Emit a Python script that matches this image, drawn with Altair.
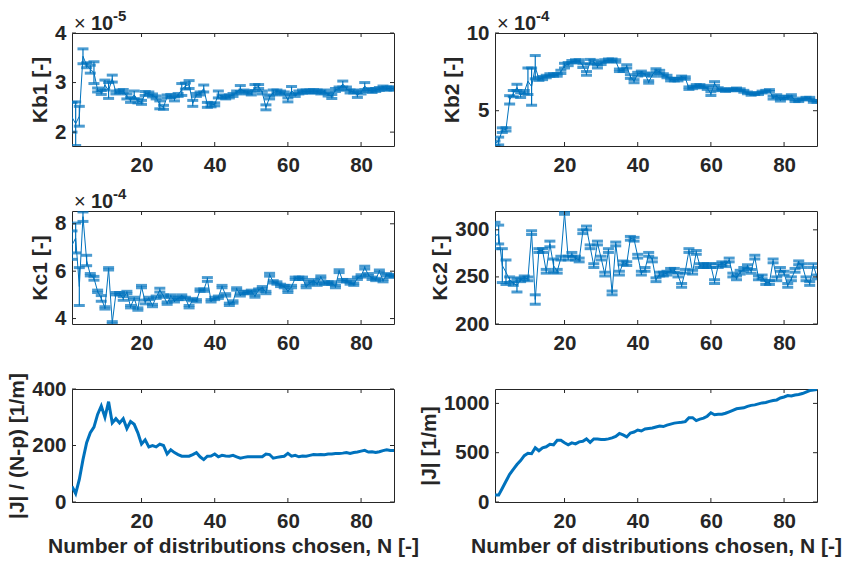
import altair as alt
import pandas as pd

N = list(range(1, 90))

kb1 = [2.30, 2.17, 2.32, 3.53, 3.35, 3.27, 3.20, 2.85, 2.80, 2.95,
       2.84, 3.08, 2.80, 2.82, 2.83, 2.72, 2.65, 2.75, 2.63, 2.60,
       2.78, 2.78, 2.74, 2.70, 2.55, 2.50, 2.72, 2.73, 2.67, 2.75,
       2.86, 2.93, 2.96, 2.58, 2.75, 2.78, 2.88, 2.55, 2.55, 2.56,
       2.76, 2.72, 2.70, 2.72, 2.75, 2.80, 2.88, 2.82, 2.80, 2.78,
       2.90, 2.92, 2.80, 2.50, 2.70, 2.80, 2.82, 2.80, 2.78, 2.65,
       2.84, 2.75, 2.80, 2.82, 2.82, 2.82, 2.83, 2.82, 2.80, 2.82,
       2.76, 2.72, 2.85, 2.88, 2.97, 2.88, 2.82, 2.82, 2.75, 2.80,
       2.93, 2.85, 2.83, 2.85, 2.87, 2.90, 2.88, 2.88, 2.88]
kb1_err = [0.30, 0.44, 0.20, 0.15, 0.05, 0.08, 0.22, 0.04, 0.04, 0.10,
           0.16, 0.07, 0.03, 0.03, 0.03, 0.05, 0.05, 0.08, 0.04, 0.04,
           0.04, 0.03, 0.03, 0.03, 0.08, 0.04, 0.03, 0.03, 0.04, 0.03,
           0.12, 0.06, 0.08, 0.06, 0.03, 0.03, 0.07, 0.05, 0.04, 0.03,
           0.07, 0.03, 0.03, 0.03, 0.03, 0.03, 0.06, 0.03, 0.03, 0.03,
           0.06, 0.04, 0.03, 0.05, 0.03, 0.05, 0.03, 0.03, 0.03, 0.04,
           0.08, 0.03, 0.03, 0.03, 0.03, 0.03, 0.03, 0.03, 0.03, 0.03,
           0.03, 0.04, 0.03, 0.03, 0.06, 0.03, 0.03, 0.03, 0.05, 0.03,
           0.07, 0.03, 0.03, 0.03, 0.03, 0.03, 0.03, 0.03, 0.03]

kb2 = [2.90, 3.05, 3.75, 3.80, 5.70, 6.10, 6.50, 6.00, 6.20, 6.90,
       6.55, 7.80, 7.05, 7.10, 7.20, 7.30, 7.30, 7.30, 7.50, 7.90,
       8.00, 8.15, 8.20, 8.20, 7.90, 7.40, 8.15, 8.15, 7.85, 8.05,
       8.20, 8.25, 8.25, 8.20, 7.60, 7.60, 7.85, 7.20, 6.90, 7.35,
       7.45, 7.35, 6.85, 7.30, 7.60, 7.50, 7.30, 7.20, 7.00, 7.00,
       7.00, 7.15, 7.10, 6.45, 6.50, 6.60, 6.60, 6.55, 6.45, 6.10,
       6.75, 6.40, 6.35, 6.30, 6.35, 6.35, 6.40, 6.35, 6.25, 6.15,
       6.05, 6.10, 6.10, 6.20, 6.25, 6.30, 5.85, 5.95, 5.70, 5.85,
       5.85, 5.95, 5.65, 5.65, 5.75, 5.80, 5.80, 5.60, 5.60]
kb2_err = [0.15, 0.25, 0.15, 0.10, 0.27, 0.20, 0.20, 0.15, 0.10, 0.85,
           1.20, 0.75, 0.10, 0.10, 0.08, 0.08, 0.08, 0.08, 0.10, 0.15,
           0.10, 0.08, 0.08, 0.08, 0.12, 0.12, 0.15, 0.10, 0.10, 0.08,
           0.08, 0.08, 0.08, 0.08, 0.08, 0.08, 0.10, 0.12, 0.10, 0.12,
           0.10, 0.08, 0.08, 0.08, 0.10, 0.10, 0.08, 0.08, 0.08, 0.08,
           0.08, 0.08, 0.08, 0.08, 0.08, 0.08, 0.08, 0.08, 0.08, 0.12,
           0.12, 0.08, 0.06, 0.06, 0.06, 0.06, 0.06, 0.06, 0.06, 0.06,
           0.06, 0.06, 0.06, 0.06, 0.06, 0.06, 0.10, 0.08, 0.08, 0.08,
           0.08, 0.08, 0.06, 0.06, 0.06, 0.06, 0.06, 0.06, 0.06]

kc1 = [7.10, 7.40, 5.35, 8.30, 6.45, 5.85, 5.70, 5.15, 4.85, 4.45,
       6.10, 3.82, 5.05, 5.05, 4.85, 5.10, 4.50, 4.85, 4.40, 5.35,
       4.70, 4.85, 4.55, 4.90, 5.20, 4.95, 4.65, 4.95, 4.75, 4.85,
       4.95, 4.85, 4.50, 4.80, 4.75, 5.20, 5.20, 5.65, 4.75, 4.85,
       4.90, 5.35, 5.00, 4.60, 4.70, 5.25, 5.00, 5.10, 5.10, 5.15,
       4.95, 5.20, 5.30, 5.10, 5.85, 5.55, 5.50, 5.40, 5.35, 5.15,
       5.35, 5.70, 5.70, 5.70, 5.35, 5.50, 5.60, 5.45, 5.75, 5.50,
       5.50, 5.50, 5.35, 6.00, 5.60, 5.60, 5.50, 5.45, 5.70, 5.80,
       6.15, 5.85, 5.70, 5.65, 6.00, 5.60, 5.85, 5.80, 5.80]
kc1_err = [0.60, 0.63, 0.80, 0.20, 0.22, 0.05, 0.08, 0.05, 0.12, 0.05,
           0.05, 0.05, 0.05, 0.05, 0.08, 0.05, 0.05, 0.05, 0.05, 0.05,
           0.08, 0.05, 0.05, 0.05, 0.08, 0.05, 0.05, 0.05, 0.05, 0.05,
           0.05, 0.05, 0.05, 0.05, 0.05, 0.05, 0.05, 0.08, 0.05, 0.05,
           0.05, 0.05, 0.05, 0.05, 0.05, 0.05, 0.05, 0.05, 0.05, 0.05,
           0.05, 0.05, 0.05, 0.05, 0.06, 0.05, 0.05, 0.05, 0.05, 0.05,
           0.05, 0.05, 0.05, 0.05, 0.05, 0.05, 0.05, 0.05, 0.05, 0.05,
           0.05, 0.05, 0.05, 0.06, 0.05, 0.05, 0.05, 0.05, 0.05, 0.05,
           0.06, 0.05, 0.05, 0.05, 0.05, 0.05, 0.05, 0.05, 0.05]

kc2 = [294, 295, 262, 255, 247, 243, 241, 247, 249, 248,
       297, 226, 278, 278, 256, 285, 262, 256, 270, 318,
       270, 274, 270, 268, 298, 302, 282, 262, 286, 270,
       253, 278, 233, 285, 254, 265, 264, 291, 290, 272,
       254, 258, 274, 268, 247, 253, 253, 254, 257, 257,
       252, 241, 256, 278, 255, 276, 262, 262, 262, 262,
       245, 262, 264, 263, 268, 252, 249, 255, 258, 261,
       256, 271, 249, 250, 244, 244, 267, 248, 258, 254,
       241, 248, 257, 265, 262, 248, 243, 262, 250]
kc2_err = [14, 10, 18, 13, 3, 2, 7, 2, 2, 2,
           2, 5, 2, 2, 2, 3, 7, 2, 2, 1.5,
           2, 2, 2, 2, 2, 2, 2, 2, 2, 2,
           2, 2, 2, 2, 2, 2, 2, 2, 2, 2,
           2, 2, 2, 2, 2, 2, 2, 2, 2, 2,
           2, 2, 2, 2, 2, 2, 2, 2, 2, 2,
           2, 2, 2, 2, 2, 2, 2, 2, 2, 2,
           2, 2, 2, 2, 2, 2, 2, 2, 2, 2,
           2, 2, 2, 2, 2, 2, 2, 2, 2]

j_np = [55, 30, 80, 150, 210, 245, 265, 310, 340, 300,
        355, 280, 295, 280, 295, 260, 285, 275, 245, 205,
        220, 195, 200, 195, 205, 200, 170, 185, 175, 168,
        162, 162, 162, 168, 175, 160, 150, 162, 163, 170,
        160, 165, 163, 162, 165, 160, 155, 158, 160, 160,
        160, 160, 160, 170, 168, 155, 158, 160, 162, 172,
        162, 165, 160, 163, 162, 165, 168, 167, 168, 167,
        170, 170, 172, 172, 173, 175, 172, 175, 177, 180,
        183, 177, 178, 175, 178, 182, 185, 182, 182]

j_abs = [70, 70, 140, 210, 280, 330, 380, 420, 470, 495,
         490, 550, 520, 550, 560, 585, 580, 625, 625, 600,
         580, 600, 590, 610, 615, 640, 605, 640, 640, 635,
         635, 640, 650, 665, 695, 680, 660, 700, 710, 730,
         720, 740, 745, 750, 760, 770, 765, 780, 790, 800,
         805, 808, 815, 855, 855, 825, 840, 850, 870, 905,
         885, 890, 890, 900, 915, 930, 945, 950, 955, 970,
         980, 985, 995, 1005, 1010, 1020, 1030, 1035, 1055, 1065,
         1080, 1075, 1085, 1090, 1100, 1115, 1130, 1135, 1140]

x_ticks = [20, 40, 60, 80]
XTITLE = "Number of distributions chosen, N [-]"

BLUE = "#0072BD"
AX = "#262626"
FONT = "Liberation Sans"
W, H = 322, 113
TK = 4


def panel(vals, ydom, yticks, ytitle, errs=None, exponent=None, xtitle=None, lw=1.0):
    xs = alt.Scale(domain=[1, 89], nice=False, zero=False)
    ys = alt.Scale(domain=ydom, nice=False, zero=False)
    xax = alt.Axis(values=x_ticks, format="d")
    yax = alt.Axis(values=yticks, format="d")

    def X(f):
        return alt.X(f, type="quantitative", scale=xs, axis=xax, title=xtitle)

    def Y(f):
        return alt.Y(f, type="quantitative", scale=ys, axis=yax, title=ytitle)

    d = {"N": N, "v": vals}
    if errs is not None:
        d["lo"] = [v - e for v, e in zip(vals, errs)]
        d["hi"] = [v + e for v, e in zip(vals, errs)]
    df = pd.DataFrame(d)
    base = alt.Chart(df)
    layers = [base.mark_line(color=BLUE, strokeWidth=lw, clip=True).encode(x=X("N"), y=Y("v"))]
    if errs is not None:
        layers.append(base.mark_rule(color=BLUE, strokeWidth=1.2, clip=True)
                      .encode(x=X("N"), y=Y("lo"), y2="hi"))
        for f in ("lo", "hi"):
            layers.append(base.mark_tick(color=BLUE, orient="horizontal", size=11,
                                         thickness=3, clip=True)
                          .encode(x=X("N"), y=Y(f)))
    ydf = pd.DataFrame({"t": yticks})
    xdf = pd.DataFrame({"t": x_ticks})
    layers.append(alt.Chart(ydf).mark_rule(color=AX, strokeWidth=1)
                  .encode(y=Y("t"), x=alt.value(0), x2=alt.value(TK)))
    layers.append(alt.Chart(ydf).mark_rule(color=AX, strokeWidth=1)
                  .encode(y=Y("t"), x=alt.value(W - TK), x2=alt.value(W)))
    layers.append(alt.Chart(xdf).mark_rule(color=AX, strokeWidth=1)
                  .encode(x=X("t"), y=alt.value(H), y2=alt.value(H - TK)))
    layers.append(alt.Chart(xdf).mark_rule(color=AX, strokeWidth=1)
                  .encode(x=X("t"), y=alt.value(0), y2=alt.value(TK)))
    if exponent is not None:
        layers.append(alt.Chart(pd.DataFrame({"s": ["×"]}))
                      .mark_text(align="left", baseline="alphabetic", font=FONT,
                                 fontSize=20, color=AX)
                      .encode(x=alt.value(2), y=alt.value(-3), text="s:N"))
        layers.append(alt.Chart(pd.DataFrame({"s": ["10"]}))
                      .mark_text(align="left", baseline="alphabetic", font=FONT,
                                 fontSize=20, fontWeight="bold", color=AX)
                      .encode(x=alt.value(19), y=alt.value(-3), text="s:N"))
        layers.append(alt.Chart(pd.DataFrame({"s": [exponent]}))
                      .mark_text(align="left", baseline="alphabetic", font=FONT,
                                 fontSize=15, fontWeight="bold", color=AX)
                      .encode(x=alt.value(41), y=alt.value(-12), text="s:N"))
    return alt.layer(*layers).properties(width=W, height=H)


p1 = panel(kb1, [1.72, 4.0], [2, 3, 4], "Kb1 [-]", errs=kb1_err, exponent="-5")
p2 = panel(kb2, [2.73, 10.0], [5, 10], "Kb2 [-]", errs=kb2_err, exponent="-4")
p3 = panel(kc1, [3.77, 8.54], [4, 6, 8], "Kc1 [-]", errs=kc1_err, exponent="-4")
p4 = panel(kc2, [200, 320], [200, 250, 300], "Kc2 [-]", errs=kc2_err)
p5 = panel(j_np, [0, 400], [0, 200, 400], "|J| / (N-p) [1/m]", xtitle=XTITLE, lw=3)
p6 = panel(j_abs, [0, 1146], [0, 500, 1000], "|J| [1/m]", xtitle=XTITLE, lw=3)

chart = (
    alt.concat(p1, p2, p3, p4, p5, p6, columns=2,
               spacing={"row": 65, "column": 101}, bounds="flush")
    .properties(padding={"left": 6, "top": 8, "right": 0, "bottom": 0},
                background="white")
    .configure_view(stroke=AX, strokeWidth=1)
    .configure_axis(domain=False, ticks=False, tickSize=0, grid=False,
                    labelFont=FONT, labelFontSize=20.5, labelFontWeight="bold",
                    labelColor=AX, titleFont=FONT, titleFontSize=21,
                    titleFontWeight="bold", titleColor=AX, labelPadding=6,
                    titlePadding=4, labelFlush=False, labelOverlap=False)
    .configure_axisX(labelPadding=9, titlePadding=4)
)

chart.save("out.html", embed_options={"renderer": "svg", "actions": False})
